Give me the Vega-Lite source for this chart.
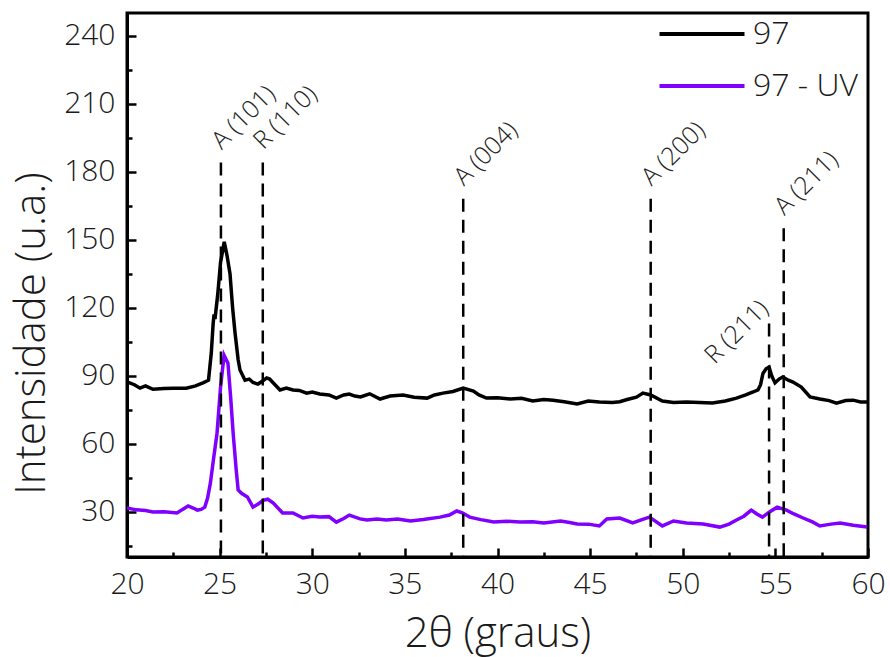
{
  "$schema": "https://vega.github.io/schema/vega-lite/v6.json",
  "width": 741,
  "height": 544,
  "padding": {"left": 127, "top": 13, "right": 22, "bottom": 100},
  "autosize": {"type": "none"},
  "background": "white",
  "config": {"font": "Open Sans", "view": {"stroke": "black", "strokeWidth": 3}},
  "resolve": {"axis": {"x": "independent", "y": "independent"}},
  "datasets": {
    "xrd": [
      {"s": "97", "x": 20.0, "y": 87.3}, {"s": "97", "x": 20.4, "y": 86}, {"s": "97", "x": 20.7, "y": 84.5}, {"s": "97", "x": 21.0, "y": 85.5},
      {"s": "97", "x": 21.4, "y": 84}, {"s": "97", "x": 22.0, "y": 84.3}, {"s": "97", "x": 22.5, "y": 84.5}, {"s": "97", "x": 23.2, "y": 84.5},
      {"s": "97", "x": 23.7, "y": 85.5}, {"s": "97", "x": 24.1, "y": 86.8}, {"s": "97", "x": 24.4, "y": 88}, {"s": "97", "x": 24.55, "y": 100},
      {"s": "97", "x": 24.65, "y": 113}, {"s": "97", "x": 24.7, "y": 117}, {"s": "97", "x": 24.75, "y": 115}, {"s": "97", "x": 24.9, "y": 126},
      {"s": "97", "x": 25.05, "y": 140}, {"s": "97", "x": 25.25, "y": 149}, {"s": "97", "x": 25.4, "y": 143}, {"s": "97", "x": 25.56, "y": 135},
      {"s": "97", "x": 25.7, "y": 120}, {"s": "97", "x": 25.83, "y": 109}, {"s": "97", "x": 26.0, "y": 97}, {"s": "97", "x": 26.1, "y": 92.5},
      {"s": "97", "x": 26.37, "y": 88}, {"s": "97", "x": 26.6, "y": 88.5}, {"s": "97", "x": 26.8, "y": 87}, {"s": "97", "x": 27.07, "y": 86.3},
      {"s": "97", "x": 27.3, "y": 87.5}, {"s": "97", "x": 27.54, "y": 89}, {"s": "97", "x": 27.7, "y": 88.5}, {"s": "97", "x": 27.9, "y": 86.8},
      {"s": "97", "x": 28.26, "y": 83.7}, {"s": "97", "x": 28.6, "y": 84.5}, {"s": "97", "x": 28.96, "y": 83.7}, {"s": "97", "x": 29.3, "y": 83.5},
      {"s": "97", "x": 29.7, "y": 82.3}, {"s": "97", "x": 30.0, "y": 82.8}, {"s": "97", "x": 30.4, "y": 81.9}, {"s": "97", "x": 30.9, "y": 81.5},
      {"s": "97", "x": 31.3, "y": 80.1}, {"s": "97", "x": 31.7, "y": 81.5}, {"s": "97", "x": 32.0, "y": 81.9}, {"s": "97", "x": 32.3, "y": 81},
      {"s": "97", "x": 32.6, "y": 80.6}, {"s": "97", "x": 33.1, "y": 82}, {"s": "97", "x": 33.66, "y": 79.7}, {"s": "97", "x": 34.2, "y": 81},
      {"s": "97", "x": 34.9, "y": 81.5}, {"s": "97", "x": 35.5, "y": 80.5}, {"s": "97", "x": 36.2, "y": 80.1}, {"s": "97", "x": 36.6, "y": 81.5},
      {"s": "97", "x": 37.06, "y": 82.3}, {"s": "97", "x": 37.6, "y": 83}, {"s": "97", "x": 38.15, "y": 84.5}, {"s": "97", "x": 38.7, "y": 83.2},
      {"s": "97", "x": 39.0, "y": 81.5}, {"s": "97", "x": 39.4, "y": 80.1}, {"s": "97", "x": 40.0, "y": 80.3}, {"s": "97", "x": 40.7, "y": 79.7},
      {"s": "97", "x": 41.3, "y": 80}, {"s": "97", "x": 41.9, "y": 78.8}, {"s": "97", "x": 42.5, "y": 79.5}, {"s": "97", "x": 43.0, "y": 79.2},
      {"s": "97", "x": 43.6, "y": 78.5}, {"s": "97", "x": 44.3, "y": 77.5}, {"s": "97", "x": 44.9, "y": 78.8}, {"s": "97", "x": 45.5, "y": 78.4},
      {"s": "97", "x": 46.2, "y": 78.2}, {"s": "97", "x": 46.6, "y": 78.5}, {"s": "97", "x": 47.0, "y": 79.5}, {"s": "97", "x": 47.5, "y": 80.5},
      {"s": "97", "x": 47.85, "y": 82.3}, {"s": "97", "x": 48.27, "y": 81.5}, {"s": "97", "x": 48.9, "y": 78.8}, {"s": "97", "x": 49.5, "y": 78.2},
      {"s": "97", "x": 50.2, "y": 78.4}, {"s": "97", "x": 50.9, "y": 78.2}, {"s": "97", "x": 51.6, "y": 77.9}, {"s": "97", "x": 52.3, "y": 78.8},
      {"s": "97", "x": 52.9, "y": 80.1}, {"s": "97", "x": 53.4, "y": 81.5}, {"s": "97", "x": 53.8, "y": 82.8}, {"s": "97", "x": 54.06, "y": 83.7},
      {"s": "97", "x": 54.2, "y": 86}, {"s": "97", "x": 54.33, "y": 91}, {"s": "97", "x": 54.5, "y": 93}, {"s": "97", "x": 54.66, "y": 93.8},
      {"s": "97", "x": 54.8, "y": 90}, {"s": "97", "x": 54.98, "y": 86.8}, {"s": "97", "x": 55.2, "y": 88.5}, {"s": "97", "x": 55.4, "y": 89.4},
      {"s": "97", "x": 55.7, "y": 88}, {"s": "97", "x": 55.95, "y": 87.2}, {"s": "97", "x": 56.4, "y": 85}, {"s": "97", "x": 56.87, "y": 80.6},
      {"s": "97", "x": 57.4, "y": 79.7}, {"s": "97", "x": 57.9, "y": 79}, {"s": "97", "x": 58.3, "y": 77.9}, {"s": "97", "x": 58.8, "y": 79},
      {"s": "97", "x": 59.2, "y": 79.2}, {"s": "97", "x": 59.6, "y": 78.4}, {"s": "97", "x": 59.95, "y": 78.4},
      {"s": "97 - UV", "x": 20.0, "y": 31.6}, {"s": "97 - UV", "x": 20.5, "y": 30.8}, {"s": "97 - UV", "x": 21.0, "y": 30.5}, {"s": "97 - UV", "x": 21.4, "y": 29.9},
      {"s": "97 - UV", "x": 22.0, "y": 30}, {"s": "97 - UV", "x": 22.7, "y": 29.4}, {"s": "97 - UV", "x": 23.0, "y": 31}, {"s": "97 - UV", "x": 23.3, "y": 32.5},
      {"s": "97 - UV", "x": 23.6, "y": 31.5}, {"s": "97 - UV", "x": 23.8, "y": 30.7}, {"s": "97 - UV", "x": 24.0, "y": 31}, {"s": "97 - UV", "x": 24.2, "y": 32},
      {"s": "97 - UV", "x": 24.35, "y": 36}, {"s": "97 - UV", "x": 24.5, "y": 42.6}, {"s": "97 - UV", "x": 24.7, "y": 55}, {"s": "97 - UV", "x": 24.86, "y": 64.6},
      {"s": "97 - UV", "x": 25.05, "y": 85}, {"s": "97 - UV", "x": 25.24, "y": 99}, {"s": "97 - UV", "x": 25.45, "y": 95.5}, {"s": "97 - UV", "x": 25.6, "y": 80},
      {"s": "97 - UV", "x": 25.73, "y": 64.6}, {"s": "97 - UV", "x": 25.9, "y": 48}, {"s": "97 - UV", "x": 26.0, "y": 39.6}, {"s": "97 - UV", "x": 26.2, "y": 38},
      {"s": "97 - UV", "x": 26.5, "y": 36.5}, {"s": "97 - UV", "x": 26.8, "y": 32}, {"s": "97 - UV", "x": 27.1, "y": 33.5}, {"s": "97 - UV", "x": 27.35, "y": 35},
      {"s": "97 - UV", "x": 27.6, "y": 35.5}, {"s": "97 - UV", "x": 27.9, "y": 33.8}, {"s": "97 - UV", "x": 28.4, "y": 29.4}, {"s": "97 - UV", "x": 28.96, "y": 29.4},
      {"s": "97 - UV", "x": 29.5, "y": 27.2}, {"s": "97 - UV", "x": 30.0, "y": 28}, {"s": "97 - UV", "x": 30.4, "y": 27.6}, {"s": "97 - UV", "x": 30.9, "y": 27.8},
      {"s": "97 - UV", "x": 31.3, "y": 25.4}, {"s": "97 - UV", "x": 31.7, "y": 27}, {"s": "97 - UV", "x": 32.0, "y": 28.5}, {"s": "97 - UV", "x": 32.58, "y": 26.8},
      {"s": "97 - UV", "x": 32.96, "y": 26.3}, {"s": "97 - UV", "x": 33.5, "y": 26.8}, {"s": "97 - UV", "x": 34.0, "y": 26.3}, {"s": "97 - UV", "x": 34.6, "y": 26.8},
      {"s": "97 - UV", "x": 35.3, "y": 25.9}, {"s": "97 - UV", "x": 36.0, "y": 26.5}, {"s": "97 - UV", "x": 36.9, "y": 27.6}, {"s": "97 - UV", "x": 37.4, "y": 28.5},
      {"s": "97 - UV", "x": 37.8, "y": 30.3}, {"s": "97 - UV", "x": 38.1, "y": 29.5}, {"s": "97 - UV", "x": 38.5, "y": 27.6}, {"s": "97 - UV", "x": 39.1, "y": 26.5},
      {"s": "97 - UV", "x": 39.8, "y": 25.4}, {"s": "97 - UV", "x": 40.5, "y": 25.8}, {"s": "97 - UV", "x": 41.2, "y": 25.4}, {"s": "97 - UV", "x": 41.9, "y": 25.6},
      {"s": "97 - UV", "x": 42.5, "y": 25}, {"s": "97 - UV", "x": 43.4, "y": 25.9}, {"s": "97 - UV", "x": 43.9, "y": 25.2}, {"s": "97 - UV", "x": 44.3, "y": 24.6},
      {"s": "97 - UV", "x": 44.9, "y": 24.5}, {"s": "97 - UV", "x": 45.5, "y": 23.7}, {"s": "97 - UV", "x": 45.9, "y": 26.8}, {"s": "97 - UV", "x": 46.6, "y": 27.2},
      {"s": "97 - UV", "x": 47.3, "y": 25}, {"s": "97 - UV", "x": 47.8, "y": 26.5}, {"s": "97 - UV", "x": 48.2, "y": 27.6}, {"s": "97 - UV", "x": 48.9, "y": 23.7},
      {"s": "97 - UV", "x": 49.5, "y": 25.9}, {"s": "97 - UV", "x": 50.2, "y": 25}, {"s": "97 - UV", "x": 51.1, "y": 24.6}, {"s": "97 - UV", "x": 52.0, "y": 23.2},
      {"s": "97 - UV", "x": 52.5, "y": 24.5}, {"s": "97 - UV", "x": 52.9, "y": 26.3}, {"s": "97 - UV", "x": 53.3, "y": 28}, {"s": "97 - UV", "x": 53.7, "y": 30.7},
      {"s": "97 - UV", "x": 54.0, "y": 29}, {"s": "97 - UV", "x": 54.3, "y": 27.6}, {"s": "97 - UV", "x": 54.7, "y": 30}, {"s": "97 - UV", "x": 55.1, "y": 32},
      {"s": "97 - UV", "x": 55.6, "y": 30.7}, {"s": "97 - UV", "x": 56.0, "y": 29}, {"s": "97 - UV", "x": 56.5, "y": 27.2}, {"s": "97 - UV", "x": 57.0, "y": 25.5},
      {"s": "97 - UV", "x": 57.4, "y": 23.7}, {"s": "97 - UV", "x": 58.0, "y": 24.5}, {"s": "97 - UV", "x": 58.5, "y": 25}, {"s": "97 - UV", "x": 59.2, "y": 24},
      {"s": "97 - UV", "x": 59.95, "y": 23.2}
    ],
    "peaks": [
      {"label": "A (101)", "x": 25.07, "top": 184},
      {"label": "R (110)", "x": 27.33, "top": 184},
      {"label": "A (004)", "x": 38.15, "top": 168},
      {"label": "A (200)", "x": 48.27, "top": 168},
      {"label": "R (211)", "x": 54.66, "top": 113},
      {"label": "A (211)", "x": 55.45, "top": 155}
    ]
  },
  "layer": [
    {
      "data": {"name": "xrd"},
      "mark": {"type": "line", "strokeWidth": 3.5, "clip": true},
      "encoding": {
        "x": {
          "field": "x", "type": "quantitative",
          "scale": {"domain": [20, 60], "nice": false, "zero": false},
          "axis": {
            "orient": "bottom",
            "title": "2θ (graus)",
            "values": [20, 25, 30, 35, 40, 45, 50, 55, 60],
            "tickSize": -9,
            "tickWidth": 2.5, "tickColor": "black",
            "domainColor": "black", "domainWidth": 3,
            "labelFontSize": 30, "labelColor": "#1a1a1a", "labelPadding": 21, "labelFontWeight": 300,
            "labelFlush": false, "labelOverlap": false,
            "titleFontSize": 42, "titleFontWeight": 300, "titleColor": "#1a1a1a",
            "titleY": 89, "titleBaseline": "alphabetic",
            "grid": false
          }
        },
        "y": {
          "field": "y", "type": "quantitative",
          "scale": {"domain": [10, 250], "nice": false, "zero": false},
          "axis": {
            "orient": "left",
            "title": "Intensidade (u.a.)",
            "values": [30, 60, 90, 120, 150, 180, 210, 240],
            "tickSize": -9,
            "tickWidth": 2.5, "tickColor": "black",
            "domainColor": "black", "domainWidth": 3,
            "labelFontSize": 30, "labelColor": "#1a1a1a", "labelPadding": 21, "labelFontWeight": 300,
            "labelOverlap": false, "labelFlush": false,
            "titleFontSize": 42, "titleFontWeight": 300, "titleColor": "#1a1a1a",
            "titleAngle": 270, "titleAlign": "center", "titleBaseline": "middle",
            "titleX": -96, "titleY": 320,
            "grid": false
          }
        },
        "color": {
          "field": "s", "type": "nominal",
          "scale": {"domain": ["97", "97 - UV"], "range": ["black", "#8000FF"]},
          "legend": {
            "title": null, "orient": "none", "legendX": 556, "legendY": 2,
            "symbolType": "M-2.5,0H2.5", "symbolSize": 1156, "symbolStrokeWidth": 4,
            "labelFontSize": 32, "labelFontWeight": 300, "labelColor": "#1a1a1a", "labelOffset": 32, "rowPadding": 17
          }
        }
      }
    },
    {
      "data": {"name": "peaks"},
      "mark": {"type": "rule", "strokeDash": [13, 8], "strokeWidth": 2.5, "color": "black"},
      "encoding": {
        "x": {
          "field": "x", "type": "quantitative",
          "axis": {
            "orient": "bottom", "title": null, "labels": false, "domain": false, "grid": false,
            "values": [22.5, 27.5, 32.5, 37.5, 42.5, 47.5, 52.5, 57.5],
            "tickSize": -5, "tickWidth": 2.5, "tickColor": "black"
          }
        },
        "y": {
          "field": "top", "type": "quantitative",
          "axis": {
            "orient": "left", "title": null, "labels": false, "domain": false, "grid": false,
            "values": [15, 45, 75, 105, 135, 165, 195, 225],
            "tickSize": -5, "tickWidth": 2.5, "tickColor": "black"
          }
        },
        "y2": {"datum": 10}
      }
    },
    {
      "data": {"name": "peaks"},
      "transform": [{"filter": "datum.label !== 'R (211)'"}],
      "mark": {"type": "text", "angle": -45, "align": "left", "baseline": "alphabetic", "dx": 9, "dy": -8, "fontSize": 25, "fontWeight": 300, "color": "#222222"},
      "encoding": {
        "x": {"field": "x", "type": "quantitative", "axis": null},
        "y": {"field": "top", "type": "quantitative", "axis": null},
        "text": {"field": "label"}
      }
    },
    {
      "data": {"name": "peaks"},
      "transform": [{"filter": "datum.label === 'R (211)'"}],
      "mark": {"type": "text", "angle": -45, "align": "right", "baseline": "alphabetic", "dx": 10, "dy": -9, "fontSize": 25, "fontWeight": 300, "color": "#222222"},
      "encoding": {
        "x": {"field": "x", "type": "quantitative", "axis": null},
        "y": {"field": "top", "type": "quantitative", "axis": null},
        "text": {"field": "label"}
      }
    }
  ]
}
